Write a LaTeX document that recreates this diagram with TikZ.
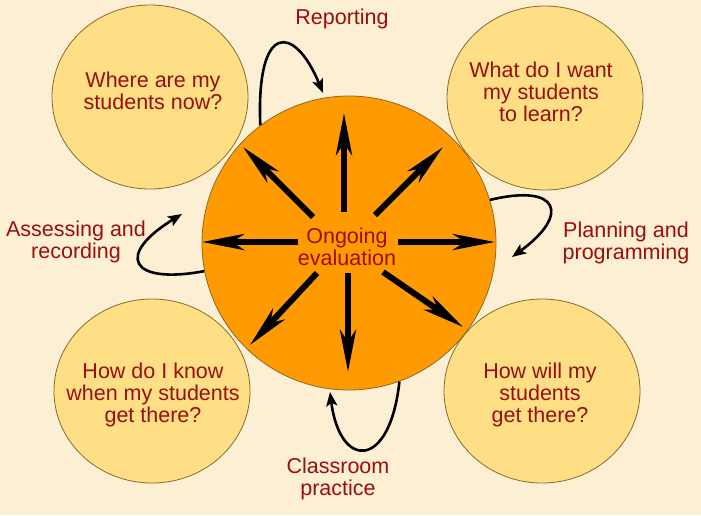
\documentclass[tikz,border=0pt]{standalone}
\usepackage{fontspec}
\setmainfont{Liberation Sans}
\usetikzlibrary{shapes.geometric}
\usetikzlibrary{arrows.meta}

\definecolor{fondo}{HTML}{FDEFD3}
\definecolor{burbuja}{HTML}{FEDF86}
\definecolor{naranja}{HTML}{FF9A00}
\definecolor{borde}{HTML}{8A6A2C}
\definecolor{texto}{HTML}{9A0E0E}

\begin{document}
\begin{tikzpicture}[
    x=1pt, y=-1pt,
    burbuja/.style={ellipse, draw=borde, fill=burbuja, line width=0.8pt,
        minimum width=196pt, minimum height=184pt, inner sep=0pt},
    centro/.style={circle, draw=borde, fill=naranja, line width=0.8pt,
        minimum size=294pt, inner sep=0pt},
    rotulo/.style={text=texto, align=center, inner sep=0pt,
        font=\fontsize{21.5}{22}\selectfont},
    rayo/.style={line width=6pt,
        -{Stealth[length=42pt, width=16pt, inset=12pt]}},
    ciclo/.style={line width=2.6pt,
        -{Stealth[length=14pt, width=11pt, inset=3pt]}}
]

% Fondo
\fill[fondo] (0,0) rectangle (701,515);
\useasboundingbox (0,0) rectangle (701,515);

% Preguntas (circulos amarillos)
\node[burbuja] (ahora) at (150,97) {};
\node[burbuja] (meta) at (545,98) {};
\node[burbuja] (saber) at (152,391) {};
\node[burbuja] (camino) at (542,391) {};

\node[rotulo] (ahoraT) at (153,91) {Where are my\\students now?};
\node[rotulo] (metaT) at (541,92) {What do I want\\my students\\to learn?};
\node[rotulo] (saberT) at (153,395) {How do I know\\when my students\\get there?};
\node[rotulo] (caminoT) at (540,395) {How will my\\students\\get there?};

% Circulo central
\node[centro] (hub) at (349,243) {};

% Flechas radiales
\foreach \xa/\ya/\xb/\yb in {344/212/344/113, 375/215/443/147,
    398/242/495/242, 383/272/463/327, 348/273/348/372,
    317/273/250/345, 298/242/202/242, 313/217/243/147}
    \draw[rayo] (\xa,\ya) -- (\xb,\yb);

\node[rotulo] (evalT) at (347,247) {Ongoing\\evaluation};

% Etapas del ciclo
\node[rotulo] (rep) at (342,19) {Reporting};
\node[rotulo] (plan) at (626,243) {Planning and\\programming};
\node[rotulo] (asses) at (76,242) {Assessing and\\recording};
\node[rotulo] (aula) at (338,479) {Classroom\\practice};

\coordinate (repFin) at (323,93);
\coordinate (planFin) at (512,257);
\coordinate (assesFin) at (182,214);
\coordinate (aulaFin) at (330,392);

\draw[ciclo] (hub.127.6) .. controls (256,20) and (295,25) .. (repFin);
\draw[ciclo] (hub.17) .. controls (560,183) and (570,215) .. (planFin);
\draw[ciclo] (hub.191) .. controls (130,285) and (115,255) .. (assesFin);
\draw[ciclo] (hub.290) .. controls (390,470) and (340,470) .. (aulaFin);

\end{tikzpicture}
\end{document}
